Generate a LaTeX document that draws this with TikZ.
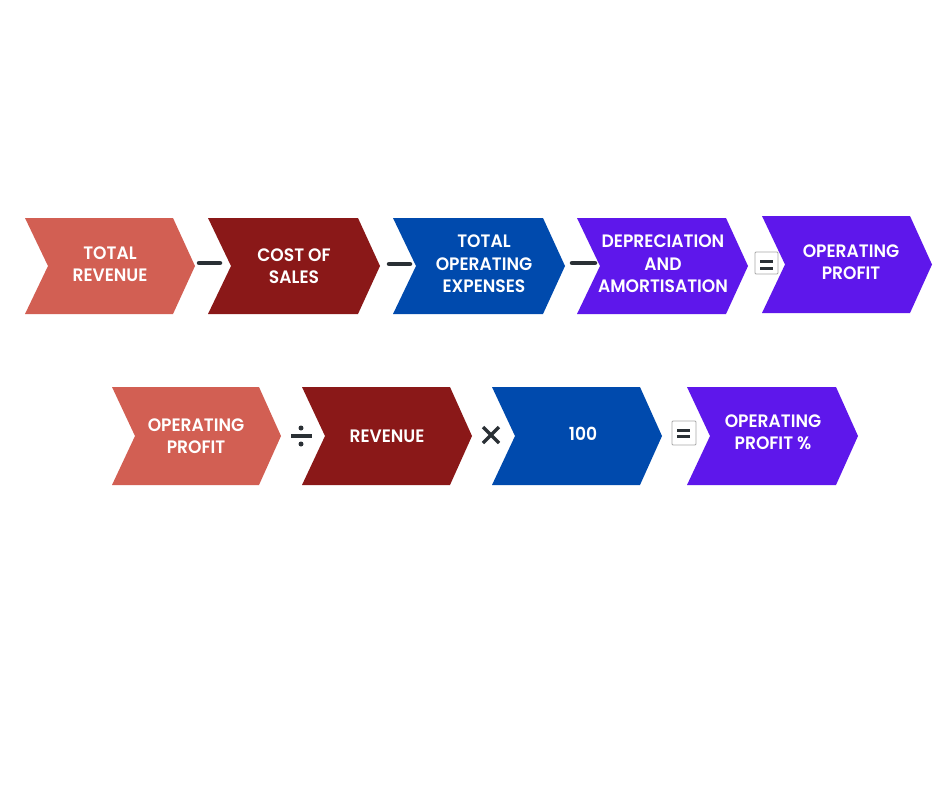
\documentclass[tikz,border=0pt]{standalone}
\usepackage{fontspec}
\newfontfamily\labfont{Poppins SemiBold}[FakeStretch=0.95]
\definecolor{csalmon}{HTML}{D25F53}
\definecolor{cdred}{HTML}{8A1818}
\definecolor{cblue}{HTML}{004AAD}
\definecolor{cpurp}{HTML}{5E17EB}
\definecolor{csign}{HTML}{2A3035}
\definecolor{cbox}{HTML}{A8A8A8}
\tikzset{
  lab/.style={text=white, font=\labfont\fontsize{18}{22.5}\selectfont, align=center, inner sep=0pt},
  signbar/.style={draw=csign, line width=4.5pt, line cap=round},
  eqbar/.style={draw=csign, line width=3pt},
  eqbox/.style={draw=cbox, line width=0.8pt, rounded corners=1pt},
}
% chevron: x1, x2 (end of straight part), top, bottom, colour
\newcommand{\chevshape}[5]{%
  \fill[#5] (#1,#3) -- (#2,#3) -- ({#2+22},{(#3+#4)/2}) -- (#2,#4) -- (#1,#4) -- ({#1+23},{(#3+#4)/2}) -- cycle;}
\begin{document}
\begin{tikzpicture}[x=1pt,y=-1pt]
\useasboundingbox (0,0) rectangle (940,788);
\fill[white] (0,0) rectangle (940,788);
% top row
\chevshape{25}{173}{218}{314}{csalmon}
\chevshape{208}{358}{218}{314}{cdred}
\chevshape{393}{543}{218}{314}{cblue}
\chevshape{577}{726}{218}{314}{cpurp}
\chevshape{762}{910}{216}{313}{cpurp}
\node[lab] (t1) at (110,264) {TOTAL\\REVENUE};
\node[lab] (t2) at (294,266) {COST OF\\SALES};
\node[lab] (t3) at (484,264) {TOTAL\\OPERATING\\EXPENSES};
\node[lab] (t4) at (663,264) {DEPRECIATION\\AND\\AMORTISATION};
\node[lab] (t5) at (851,262) {OPERATING\\PROFIT};
% top signs
\draw[signbar] (199,263) -- (220,263);
\draw[signbar] (389,264) -- (410,264);
\draw[signbar] (572,263) -- (595,263);
\draw[eqbox] (755,252) rectangle (778,274);
\draw[eqbar] (760,261) -- (773,261);
\draw[eqbar] (760,268) -- (773,268);
% bottom row
\chevshape{112}{259}{387}{485}{csalmon}
\chevshape{302}{450}{387}{485}{cdred}
\chevshape{492}{640}{387}{485}{cblue}
\chevshape{687}{836}{387}{485}{cpurp}
\node[lab] (b1) at (196,436) {OPERATING\\PROFIT};
\node[lab] (b2) at (387,436) {REVENUE};
\node[lab] (b3) at (583,434) {100};
\node[lab] (b4) at (773,432) {OPERATING\\PROFIT \%};
% bottom signs
\draw[draw=csign, line width=3.5pt] (291,436) -- (312,436);
\fill[csign] (301,428) circle (2.5);
\fill[csign] (301,444) circle (2.5);
\draw[draw=csign, line width=3.5pt] (483,427) -- (499,443);
\draw[draw=csign, line width=3.5pt] (483,443) -- (499,427);
\draw[eqbox] (672,421) rectangle (696,445);
\draw[eqbar] (677,430) -- (690,430);
\draw[eqbar] (677,436.5) -- (690,436.5);
\end{tikzpicture}
\end{document}
